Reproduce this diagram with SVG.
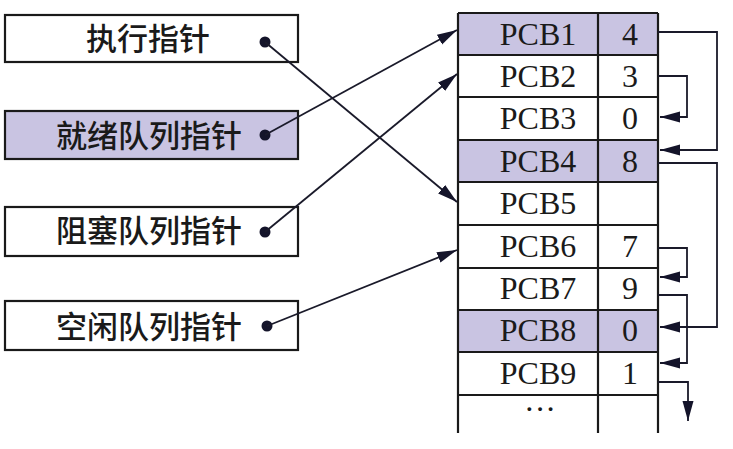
<svg xmlns="http://www.w3.org/2000/svg" width="733" height="449" viewBox="0 0 733 449">
<style>
.box{fill:#fff;stroke:#1a1a1a;stroke-width:2.2}
.hl{fill:#c9c4e2}
.cn{font-family:"Noto Sans CJK SC","Noto Sans",sans-serif;font-size:31px;font-weight:500;fill:#1a1a1a}
.pc{font-family:"Liberation Serif","DejaVu Serif",serif;font-size:32px;fill:#1a1a1a;text-anchor:middle}
.grid{stroke:#1a1a1a;stroke-width:2.2;fill:none}
.ln{stroke:#1a1a2a;stroke-width:1.8;fill:none}
.dot{fill:#14142a}
</style>
<defs>
<marker id="ah" markerUnits="userSpaceOnUse" markerWidth="22" markerHeight="12" refX="20" refY="5.5" orient="auto">
<path d="M0,0 L20,5.5 L0,11 Z" fill="#14142a"/>
</marker>
</defs>
<g id="exec-ptr">
<rect class="box" x="5" y="15" width="293" height="47"/>
<text class="cn" x="86" y="50">执行指针</text>
<circle class="dot" cx="265" cy="42" r="5.5"/>
</g>
<g id="ready-ptr">
<rect class="box hl" x="5" y="111" width="293" height="48" style="fill:#c9c4e2"/>
<text class="cn" x="56" y="147">就绪队列指针</text>
<circle class="dot" cx="265" cy="135" r="5.5"/>
</g>
<g id="block-ptr">
<rect class="box" x="5" y="207" width="293" height="49"/>
<text class="cn" x="56" y="242">阻塞队列指针</text>
<circle class="dot" cx="265" cy="232" r="5.5"/>
</g>
<g id="free-ptr">
<rect class="box" x="5" y="301" width="293" height="49"/>
<text class="cn" x="56" y="338">空闲队列指针</text>
<circle class="dot" cx="267" cy="326" r="5.5"/>
</g>
<g id="pcb-table">
<rect class="hl" x="458" y="13" width="200" height="42"/>
<rect class="hl" x="458" y="140" width="200" height="42"/>
<rect class="hl" x="458" y="310" width="200" height="42"/>
<path class="grid" d="M458,13 V433 M598,13 V433 M658,13 V433 M458,13 H658 M458,55 H658 M458,97 H658 M458,140 H658 M458,182 H658 M458,225 H658 M458,268 H658 M458,310 H658 M458,352 H658 M458,395 H658"/>
<text class="pc" x="538" y="45">PCB1</text><text class="pc" x="630" y="45">4</text>
<text class="pc" x="538" y="87">PCB2</text><text class="pc" x="630" y="87">3</text>
<text class="pc" x="538" y="129">PCB3</text><text class="pc" x="630" y="129">0</text>
<text class="pc" x="538" y="172">PCB4</text><text class="pc" x="630" y="172">8</text>
<text class="pc" x="538" y="214">PCB5</text>
<text class="pc" x="538" y="257">PCB6</text><text class="pc" x="630" y="257">7</text>
<text class="pc" x="538" y="299">PCB7</text><text class="pc" x="630" y="299">9</text>
<text class="pc" x="538" y="341">PCB8</text><text class="pc" x="630" y="341">0</text>
<text class="pc" x="538" y="384">PCB9</text><text class="pc" x="630" y="384">1</text>
<text class="pc" x="540" y="420">···</text>
</g>
<g id="connectors">
<path class="ln" d="M265,42 L457,202" marker-end="url(#ah)"/>
<path class="ln" d="M265,135 L457,30" marker-end="url(#ah)"/>
<path class="ln" d="M265,232 L457,74" marker-end="url(#ah)"/>
<path class="ln" d="M267,326 L457,250" marker-end="url(#ah)"/>
<path class="ln" d="M658,32 H717 V150 H660" marker-end="url(#ah)"/>
<path class="ln" d="M658,76 H687 V117 H660" marker-end="url(#ah)"/>
<path class="ln" d="M658,163 H717 V327 H660" marker-end="url(#ah)"/>
<path class="ln" d="M658,248 H687 V277 H660" marker-end="url(#ah)"/>
<path class="ln" d="M658,295 H687 V363 H660" marker-end="url(#ah)"/>
<path class="ln" d="M658,382 H688 V421" marker-end="url(#ah)"/>
</g>
</svg>
